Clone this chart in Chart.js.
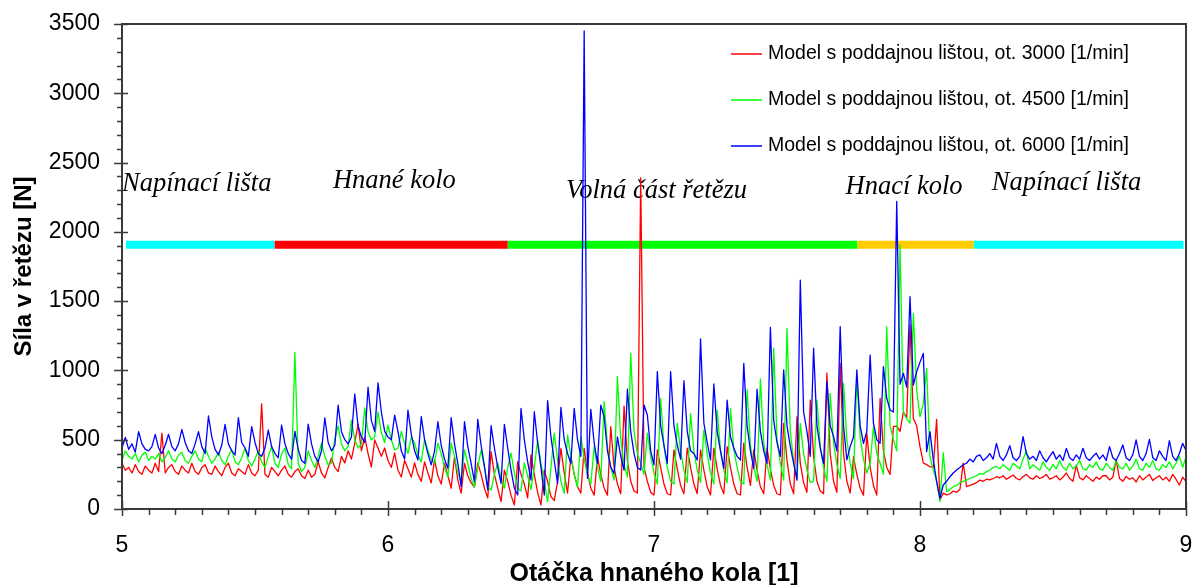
<!DOCTYPE html>
<html lang="cs">
<head>
<meta charset="utf-8">
<title>Síla v řetězu</title>
<script src="https://cdn.jsdelivr.net/npm/chart.js@4.4.1/dist/chart.umd.min.js"></script>
<style>
  html, body { margin: 0; padding: 0; background: #fff; }
  #obal { width: 1193px; height: 585px; position: relative; }
</style>
</head>
<body>
<div id="obal"><canvas id="graf"></canvas></div>
<script>
// Vzorkování průběhu: otáčka od 5 do 9, krok 0.0125
const otackaStart = 5;
const otackaKrok = 0.0125;

// Síla v řetězu [N] - ot. 3000 [1/min]
const sila3000 = [
  330, 280, 300, 260, 320, 270, 250, 310,
  280, 260, 330, 270, 548, 260, 300, 320,
  270, 250, 310, 280, 260, 330, 270, 250,
  300, 320, 260, 250, 310, 270, 240, 300,
  330, 260, 240, 290, 270, 250, 320, 260,
  240, 280, 758, 250, 230, 300, 270, 240,
  280, 310, 250, 230, 270, 290, 240, 220,
  280, 230, 250, 342, 260, 224, 300, 368,
  300, 270, 380, 332, 420, 360, 476, 613,
  420, 520, 400, 303, 498, 440, 380, 440,
  350, 300, 404, 280, 231, 350, 290, 230,
  332, 250, 200, 340, 260, 188, 354, 240,
  180, 330, 240, 150, 377, 209, 115, 330,
  240, 188, 159, 332, 250, 150, 80, 414,
  250, 150, 53, 280, 200, 100, 29, 342,
  250, 180, 80, 390, 250, 120, 29, 281,
  200, 90, 60, 200, 438, 260, 115, 380,
  250, 160, 115, 438, 260, 150, 100, 377,
  250, 150, 100, 594, 300, 180, 110, 743,
  350, 200, 130, 115, 2390, 300, 200, 120,
  101, 426, 300, 180, 110, 101, 426, 290,
  170, 110, 440, 300, 180, 110, 426, 280,
  160, 101, 440, 290, 170, 110, 450, 300,
  180, 110, 101, 476, 300, 170, 426, 280,
  160, 110, 440, 290, 170, 110, 101, 618,
  350, 180, 110, 666, 330, 190, 120, 786,
  380, 200, 130, 110, 981, 400, 200, 120,
  1051, 400, 200, 115, 377, 250, 150, 100,
  546, 300, 170, 100, 799, 420, 300, 250,
  594, 600, 560, 700, 660, 1328, 654, 600,
  450, 332, 320, 305, 300, 647, 65, 115,
  101, 110, 130, 120, 140, 330, 161, 170,
  180, 190, 209, 200, 215, 210, 220, 233,
  225, 240, 215, 230, 245, 220, 210, 235,
  250, 225, 215, 240, 220, 230, 250, 215,
  225, 240, 210, 230, 260, 220, 200, 317,
  225, 210, 240, 220, 200, 230, 215, 240,
  240, 210, 230, 354, 220, 200, 235, 215,
  225, 195, 240, 210, 230, 250, 205, 225,
  240, 210, 230, 200, 250, 215, 173, 230,
  197
];

// Síla v řetězu [N] - ot. 4500 [1/min]
const sila4500 = [
  350, 420, 380, 360, 400, 340, 390, 410,
  350, 380, 360, 400, 340, 370, 420, 360,
  340, 390, 410, 350, 330, 380, 420, 360,
  340, 440, 380, 330, 360, 410, 350, 320,
  380, 430, 340, 320, 370, 440, 350, 310,
  360, 420, 340, 300, 380, 450, 330, 300,
  400, 440, 320, 290, 1130, 330, 270, 300,
  420, 350, 300, 380, 476, 380, 320, 330,
  500, 600, 470, 420, 450, 642, 500, 440,
  470, 729, 560, 498, 520, 700, 550, 480,
  606, 500, 426, 440, 560, 470, 400, 520,
  476, 390, 340, 500, 420, 360, 332, 476,
  400, 300, 231, 476, 380, 260, 200, 426,
  330, 220, 159, 300, 426, 300, 160, 137,
  250, 332, 220, 150, 300, 404, 260, 150,
  130, 332, 240, 140, 300, 498, 330, 200,
  53, 300, 548, 350, 200, 113, 534, 380,
  250, 160, 520, 360, 240, 180, 450, 300,
  200, 774, 450, 300, 209, 955, 500, 320,
  230, 1124, 560, 400, 330, 250, 548, 380,
  260, 180, 799, 450, 300, 200, 180, 620,
  420, 280, 190, 690, 420, 280, 190, 570,
  400, 260, 180, 714, 420, 280, 190, 726,
  430, 300, 200, 180, 859, 460, 300, 200,
  938, 480, 320, 209, 1160, 500, 330, 209,
  1304, 560, 340, 220, 618, 400, 280, 190,
  200, 786, 450, 300, 200, 835, 480, 320,
  220, 907, 500, 330, 220, 955, 520, 360,
  260, 330, 594, 400, 330, 250, 1316, 600,
  500, 420, 1905, 700, 650, 620, 1412, 859,
  666, 760, 1015, 377, 281, 200, 53, 406,
  125, 140, 161, 170, 190, 200, 209, 220,
  230, 240, 257, 250, 270, 280, 300, 305,
  290, 320, 300, 280, 330, 310, 290, 360,
  420, 290, 320, 300, 280, 340, 300, 280,
  320, 290, 350, 300, 280, 330, 290, 310,
  350, 290, 280, 320, 300, 340, 290, 280,
  330, 300, 280, 350, 300, 290, 330, 280,
  310, 360, 290, 280, 330, 300, 350, 290,
  280, 320, 300, 340, 290, 330, 380, 300,
  377
];

// Síla v řetězu [N] - ot. 6000 [1/min]
const sila6000 = [
  440, 517, 430, 470, 410, 558, 470, 430,
  420, 450, 539, 440, 400, 460, 539, 450,
  420, 470, 575, 480, 420, 400, 470, 558,
  450, 400, 671, 520, 430, 390, 460, 610,
  470, 420, 390, 659, 480, 440, 380, 594,
  480, 400, 380, 440, 570, 450, 400, 370,
  606, 470, 400, 360, 560, 430, 350, 330,
  613, 470, 380, 340, 420, 657, 480, 420,
  460, 750, 560, 500, 470, 520, 830, 600,
  520, 480, 880, 640, 560, 910, 700, 560,
  520, 500, 678, 560, 420, 360, 714, 540,
  420, 354, 666, 500, 400, 318, 420, 630,
  460, 360, 294, 659, 470, 330, 161, 630,
  450, 330, 197, 647, 460, 310, 137, 601,
  440, 300, 185, 611, 440, 280, 150, 101,
  726, 500, 340, 209, 702, 480, 300, 101,
  782, 520, 350, 185, 734, 500, 400, 330,
  726, 500, 380, 3450, 221, 719, 480, 330,
  750, 666, 420, 300, 257, 520, 380, 281,
  864, 560, 400, 300, 281, 750, 678, 420,
  318, 991, 600, 460, 330, 991, 600, 460,
  360, 926, 560, 420, 400, 354, 1227, 620,
  480, 354, 902, 560, 420, 294, 786, 520,
  440, 380, 354, 1051, 600, 420, 294, 864,
  560, 420, 330, 1311, 640, 480, 380, 1003,
  600, 450, 330, 209, 1652, 700, 560, 380,
  1160, 600, 440, 330, 919, 600, 522, 420,
  1316, 600, 354, 450, 520, 1003, 600, 474,
  560, 1111, 620, 500, 474, 1027, 799, 714,
  700, 2220, 900, 979, 880, 1532, 895, 991,
  1060, 1123, 414, 558, 354, 200, 77, 173,
  200, 233, 260, 281, 300, 320, 330, 360,
  340, 380, 390, 350, 370, 400, 360, 474,
  380, 350, 390, 457, 370, 350, 380, 522,
  400, 360, 380, 350, 420, 370, 340, 380,
  414, 360, 390, 350, 438, 370, 350, 390,
  360, 438, 370, 350, 380, 402, 360, 390,
  350, 450, 370, 350, 400, 462, 370, 350,
  390, 498, 380, 350, 400, 503, 370, 350,
  420, 380, 350, 493, 380, 350, 400, 474,
  420
];

// Úseky řetězu (barevný pruh)
const useky = ['Napínací lišta', 'Hnané kolo', 'Volná část řetězu', 'Hnací kolo', 'Napínací lišta'];
const usekHranice = [5.015, 5.573, 6.45, 7.764, 8.202, 8.991];
const usekBarvy = ['#00ffff', '#ff0000', '#00ff00', '#ffcc00', '#00ffff'];
const usekUroven = 1907;

const popiskyUseku = [
  { x: 5.0,   y: 2297 },
  { x: 5.793, y: 2316 },
  { x: 6.669, y: 2244 },
  { x: 7.72,  y: 2273 },
  { x: 8.27,  y: 2302 }
];

const nazvyRad = [
  'Model s poddajnou lištou, ot. 3000 [1/min]',
  'Model s poddajnou lištou, ot. 4500 [1/min]',
  'Model s poddajnou lištou, ot. 6000 [1/min]'
];
const barvyRad = ['#ff0000', '#00ff00', '#0000ff'];

[sila3000, sila4500, sila6000].forEach((r, k) => {
  if (r.length !== 321) throw new Error('rada ' + k + ' ma ' + r.length + ' hodnot');
});

function naBody(rada) {
  return rada.map((v, i) => ({ x: otackaStart + i * otackaKrok, y: v }));
}

Chart.defaults.font.family = '"Liberation Sans", Arial, sans-serif';
Chart.defaults.color = '#000';

const datasety = [
  { label: nazvyRad[2], data: naBody(sila6000), borderColor: barvyRad[2], order: 1 },
  { label: nazvyRad[1], data: naBody(sila4500), borderColor: barvyRad[1], order: 2 },
  { label: nazvyRad[0], data: naBody(sila3000), borderColor: barvyRad[0], order: 3 }
].map(d => Object.assign(d, {
  borderWidth: 1.3,
  pointRadius: 0,
  tension: 0,
  fill: false,
  borderJoinStyle: 'round'
}));

useky.forEach((nazev, k) => {
  datasety.push({
    label: nazev,
    data: [{ x: usekHranice[k], y: usekUroven }, { x: usekHranice[k + 1], y: usekUroven }],
    borderColor: usekBarvy[k],
    borderWidth: 8,
    borderCapStyle: 'butt',
    pointRadius: 0,
    fill: false,
    order: 10
  });
});

// Osy s vedlejšími značkami, rámeček, popisky úseků a legenda
const osyPlugin = {
  id: 'osy',
  beforeDatasetsDraw(chart) {
    const { ctx, scales: { x, y } } = chart;
    ctx.save();
    ctx.font = 'italic 26.5px "Liberation Serif", "Times New Roman", serif';
    ctx.fillStyle = '#000';
    ctx.textBaseline = 'alphabetic';
    ctx.textAlign = 'left';
    popiskyUseku.forEach((p, k) => {
      ctx.fillText(useky[k], x.getPixelForValue(p.x), y.getPixelForValue(p.y));
    });
    ctx.restore();
  },
  afterDraw(chart) {
    const { ctx, chartArea: a, scales: { x, y } } = chart;
    ctx.save();
    ctx.strokeStyle = '#3a3a3a';
    ctx.lineWidth = 2;
    ctx.strokeRect(a.left, a.top, a.right - a.left, a.bottom - a.top);

    ctx.lineWidth = 1.5;
    ctx.beginPath();
    for (let v = 0; v <= 3500; v += 100) {
      const py = Math.round(y.getPixelForValue(v)) + 0.5;
      if (v % 500 === 0) { ctx.moveTo(a.left - 8, py); ctx.lineTo(a.left + 6, py); }
      else { ctx.moveTo(a.left - 5, py); ctx.lineTo(a.left, py); }
    }
    for (let k = 0; k <= 40; k++) {
      const px = Math.round(x.getPixelForValue(5 + k / 10)) + 0.5;
      if (k % 10 === 0) { ctx.moveTo(px, a.bottom - 8); ctx.lineTo(px, a.bottom + 7); }
      else { ctx.moveTo(px, a.bottom); ctx.lineTo(px, a.bottom + 6); }
    }
    ctx.stroke();

    // legenda
    ctx.font = '19.5px "Liberation Sans", Arial, sans-serif';
    ctx.textBaseline = 'middle';
    ctx.fillStyle = '#000';
    const radky = [54, 100, 146];
    nazvyRad.forEach((t, k) => {
      ctx.strokeStyle = barvyRad[k];
      ctx.lineWidth = 1.5;
      ctx.beginPath();
      ctx.moveTo(731, radky[k]);
      ctx.lineTo(762, radky[k]);
      ctx.stroke();
      ctx.fillText(t, 768, radky[k]);
    });
    ctx.restore();
  }
};

new Chart(document.getElementById('graf'), {
  type: 'line',
  data: { datasets: datasety },
  options: {
    responsive: true,
    maintainAspectRatio: false,
    animation: false,
    layout: { padding: { top: 24, right: 7, bottom: 0, left: 0 } },
    plugins: { legend: { display: false }, tooltip: { enabled: false } },
    scales: {
      x: {
        type: 'linear',
        min: 5,
        max: 9,
        afterFit: s => { s.height = 76; s.paddingLeft = 0; s.paddingRight = 0; },
        grid: { display: false, drawTicks: false },
        border: { display: false },
        ticks: { stepSize: 1, font: { size: 23 }, padding: 23, maxRotation: 0, callback: v => String(v) },
        title: {
          display: true,
          text: 'Otáčka hnaného kola [1]',
          font: { size: 25, weight: 'bold', lineHeight: 0.88 },
          padding: { top: 0, bottom: 0 }
        }
      },
      y: {
        min: 0,
        max: 3500,
        afterFit: s => { s.width = 122; s.paddingTop = 0; s.paddingBottom = 0; },
        grid: { display: false, drawTicks: false },
        border: { display: false },
        ticks: { stepSize: 500, font: { size: 23 }, padding: 22, callback: v => String(v) },
        title: {
          display: true,
          text: 'Síla v řetězu [N]',
          font: { size: 24, weight: 'bold' },
          padding: { top: 10, bottom: 0 }
        }
      }
    }
  },
  plugins: [osyPlugin]
});
</script>
</body>
</html>
